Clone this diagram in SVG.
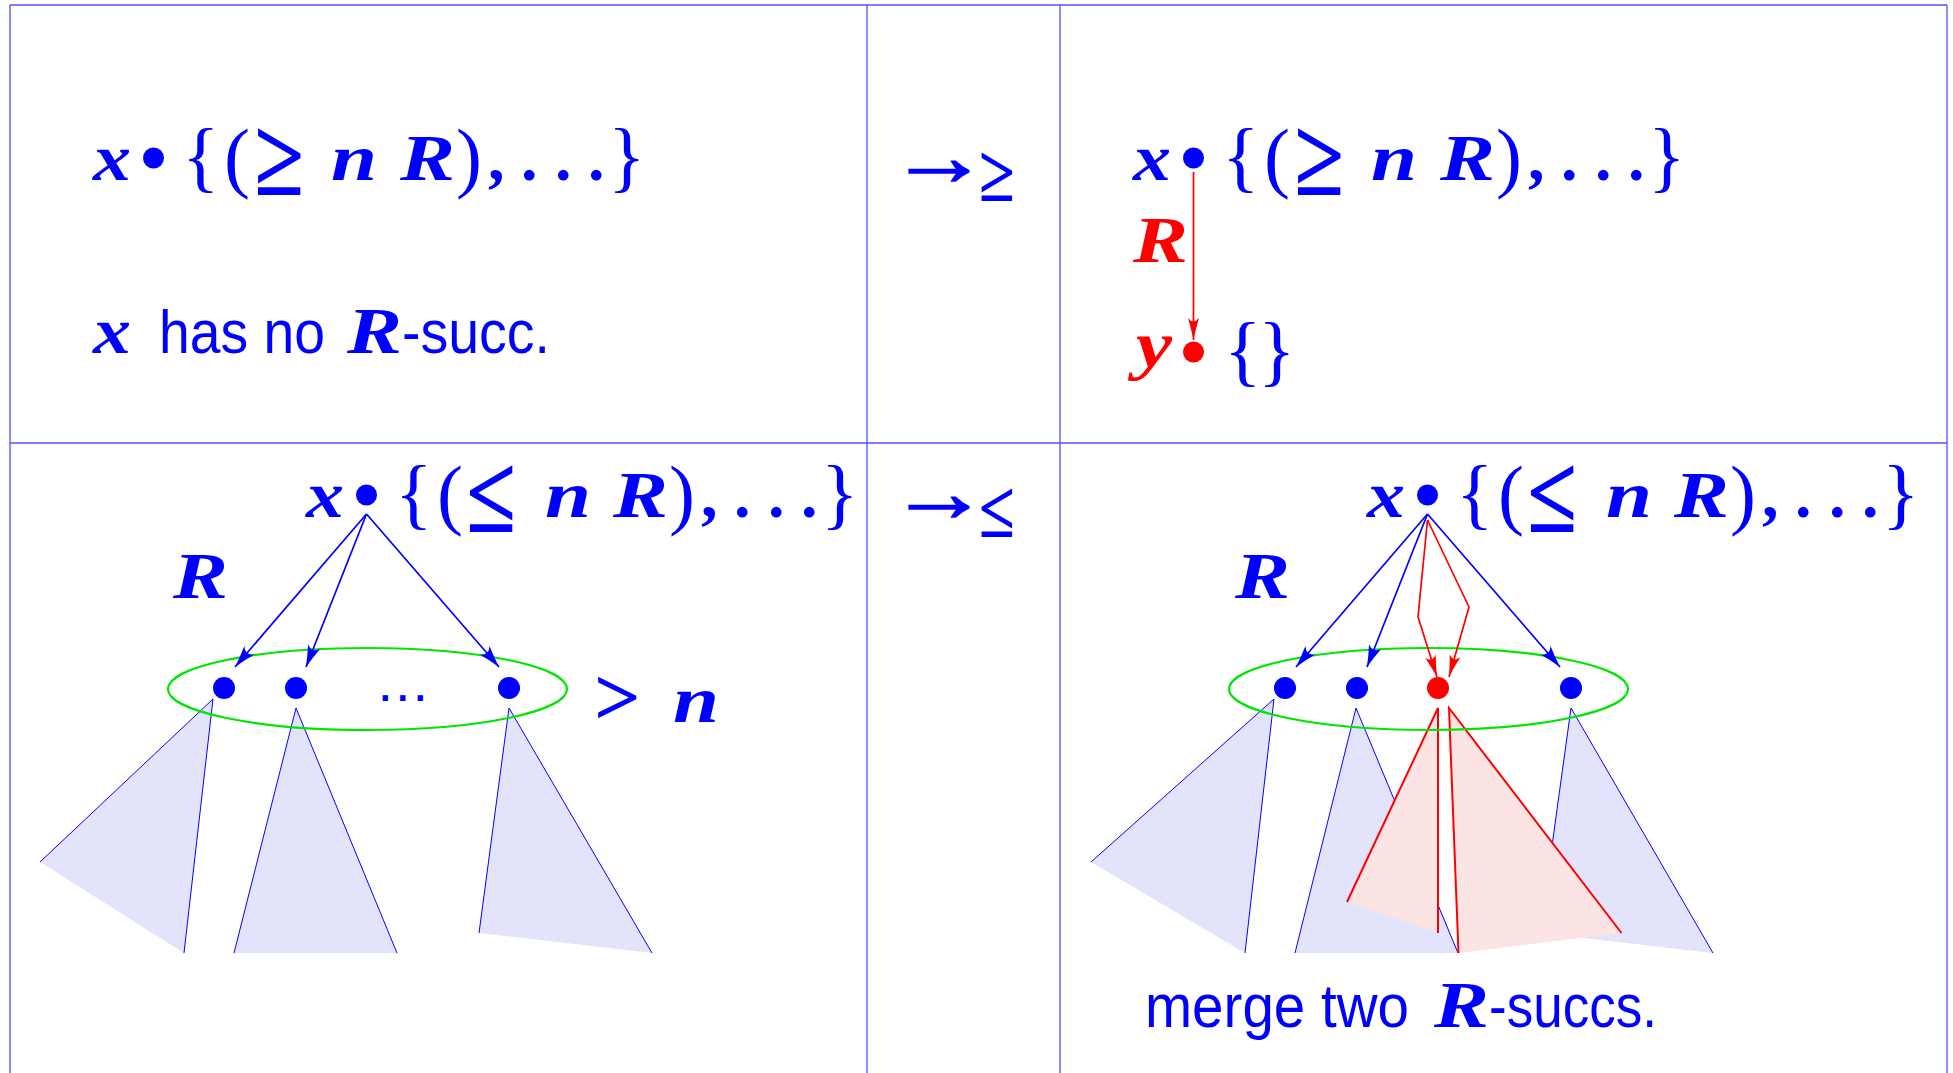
<svg xmlns="http://www.w3.org/2000/svg" width="1953" height="1073" viewBox="0 0 1953 1073">
<style>
.mi{font-family:"Liberation Serif","DejaVu Serif",serif;font-style:italic;font-weight:bold;font-size:66px}
.mr{font-family:"Liberation Serif","DejaVu Serif",serif;font-size:78px}
.rel{font-family:"Liberation Serif","DejaVu Serif",serif;font-weight:bold;font-size:110px}
.gt{font-family:"Liberation Serif","DejaVu Serif",serif;font-weight:bold;font-size:82px}
.pt{font-family:"Liberation Serif","DejaVu Serif",serif;font-weight:bold;font-size:66px}
.ss{font-family:"Liberation Sans","DejaVu Sans",sans-serif;font-size:62px}
.op{font-family:"Liberation Serif","DejaVu Serif",serif;font-weight:bold;font-size:84px;stroke:#0000ff;stroke-width:1.6}
.sub{font-family:"Liberation Serif","DejaVu Serif",serif;font-weight:bold;font-size:80px;stroke:none}
.b{fill:#0000ff}
.r{fill:#ff0000}
.grid{stroke:#5050ff;stroke-width:1.3;fill:none}
.tri{fill:#e3e3fb;stroke:none}
.tril{fill:none;stroke:#0000ff;stroke-width:1}
.ptri{fill:#fde4e4;stroke:none}
.ptril{fill:none;stroke:#ff0000;stroke-width:2}
.ell{fill:none;stroke:#00e600;stroke-width:2.2}
.ab{stroke:#0000ff;stroke-width:1.7;fill:none;marker-end:url(#ah-b)}
.ar{stroke:#ff0000;stroke-width:1.7;fill:none;marker-end:url(#ah-r)}
</style>
<defs>
<marker id="ah-b" markerUnits="userSpaceOnUse" viewBox="0 0 26 16" markerWidth="26" markerHeight="16" refX="24" refY="8" orient="auto"><path d="M24,8 Q12,5 2,1.5 Q9,8 2,14.5 Q12,11 24,8 Z" fill="#0000ff"/></marker>
<marker id="ah-r" markerUnits="userSpaceOnUse" viewBox="0 0 26 16" markerWidth="26" markerHeight="16" refX="24" refY="8" orient="auto"><path d="M24,8 Q12,5.5 2,2.5 Q9,8 2,13.5 Q12,10.5 24,8 Z" fill="#ff0000"/></marker>
</defs>
<rect width="1953" height="1073" fill="#ffffff"/>
<g id="grid" class="grid">
<line x1="10" y1="5" x2="1947" y2="5"/>
<line x1="10" y1="443" x2="1947" y2="443"/>
<line x1="10" y1="5" x2="10" y2="1073"/>
<line x1="867" y1="5" x2="867" y2="1073"/>
<line x1="1060" y1="5" x2="1060" y2="1073"/>
<line x1="1947" y1="5" x2="1947" y2="1073"/>
</g>
<g id="rule-ge">
<text class="op b" x="889" y="185" textLength="100" lengthAdjust="spacingAndGlyphs">→</text>
<text class="sub b" x="979" y="201" textLength="36" lengthAdjust="spacingAndGlyphs">≥</text>
</g>
<g id="rule-le">
<text class="op b" x="889" y="521" textLength="100" lengthAdjust="spacingAndGlyphs">→</text>
<text class="sub b" x="979" y="537" textLength="36" lengthAdjust="spacingAndGlyphs">≤</text>
</g>
<g id="tl-x">
<text class="b"><tspan class="mi" x="93" y="180" textLength="38" lengthAdjust="spacingAndGlyphs">x</tspan><tspan class="mr" x="182" y="183">{</tspan><tspan class="mr" x="224" y="183">(</tspan><tspan class="rel" x="254" y="195" textLength="50" lengthAdjust="spacingAndGlyphs">≥</tspan><tspan class="mi" x="331" y="180" textLength="46" lengthAdjust="spacingAndGlyphs">n</tspan><tspan class="mi" x="400" y="180" textLength="55" lengthAdjust="spacingAndGlyphs">R</tspan><tspan class="mr" x="456" y="183">)</tspan><tspan class="pt" x="488" y="180">,</tspan><tspan class="pt" x="521" y="180">.</tspan><tspan class="pt" x="555" y="180">.</tspan><tspan class="pt" x="588" y="180">.</tspan><tspan class="mr" x="608" y="183">}</tspan></text>
<circle cx="153.5" cy="158" r="10.5" fill="#0000ff"/>
</g>
<g id="tl-note">
<text class="b"><tspan class="mi" x="93" y="353" textLength="38" lengthAdjust="spacingAndGlyphs">x</tspan><tspan class="ss" x="159" y="353" textLength="166" lengthAdjust="spacingAndGlyphs">has no</tspan><tspan class="mi" x="347" y="353" textLength="55" lengthAdjust="spacingAndGlyphs">R</tspan><tspan class="ss" x="402" y="353" textLength="148" lengthAdjust="spacingAndGlyphs">-succ.</tspan></text>
</g>
<g id="tr-x">
<text class="b"><tspan class="mi" x="1133" y="180" textLength="38" lengthAdjust="spacingAndGlyphs">x</tspan><tspan class="mr" x="1222" y="183">{</tspan><tspan class="mr" x="1264" y="183">(</tspan><tspan class="rel" x="1294" y="195" textLength="50" lengthAdjust="spacingAndGlyphs">≥</tspan><tspan class="mi" x="1371" y="180" textLength="46" lengthAdjust="spacingAndGlyphs">n</tspan><tspan class="mi" x="1440" y="180" textLength="55" lengthAdjust="spacingAndGlyphs">R</tspan><tspan class="mr" x="1496" y="183">)</tspan><tspan class="pt" x="1528" y="180">,</tspan><tspan class="pt" x="1561" y="180">.</tspan><tspan class="pt" x="1595" y="180">.</tspan><tspan class="pt" x="1628" y="180">.</tspan><tspan class="mr" x="1648" y="183">}</tspan></text>
<circle cx="1193.5" cy="158" r="10.5" fill="#0000ff"/>
</g>
<g id="tr-y">
<text class="mi r" x="1136" y="367" textLength="36" lengthAdjust="spacingAndGlyphs">y</text>
<circle cx="1193.5" cy="352" r="10.5" fill="#ff0000"/>
<text class="b"><tspan class="mr" x="1224" y="377">{</tspan><tspan class="mr" x="1258" y="377">}</tspan></text>
</g>
<g id="bl-x">
<text class="b"><tspan class="mi" x="306" y="517" textLength="38" lengthAdjust="spacingAndGlyphs">x</tspan><tspan class="mr" x="395" y="520">{</tspan><tspan class="mr" x="437" y="520">(</tspan><tspan class="rel" x="466" y="532" textLength="50" lengthAdjust="spacingAndGlyphs">≤</tspan><tspan class="mi" x="545" y="517" textLength="46" lengthAdjust="spacingAndGlyphs">n</tspan><tspan class="mi" x="613" y="517" textLength="55" lengthAdjust="spacingAndGlyphs">R</tspan><tspan class="mr" x="669" y="520">)</tspan><tspan class="pt" x="701" y="517">,</tspan><tspan class="pt" x="734" y="517">.</tspan><tspan class="pt" x="768" y="517">.</tspan><tspan class="pt" x="801" y="517">.</tspan><tspan class="mr" x="821" y="520">}</tspan></text>
<circle cx="366.5" cy="495" r="10.5" fill="#0000ff"/>
</g>
<g id="br-x">
<text class="b"><tspan class="mi" x="1367" y="517" textLength="38" lengthAdjust="spacingAndGlyphs">x</tspan><tspan class="mr" x="1456" y="520">{</tspan><tspan class="mr" x="1498" y="520">(</tspan><tspan class="rel" x="1527" y="532" textLength="50" lengthAdjust="spacingAndGlyphs">≤</tspan><tspan class="mi" x="1606" y="517" textLength="46" lengthAdjust="spacingAndGlyphs">n</tspan><tspan class="mi" x="1674" y="517" textLength="55" lengthAdjust="spacingAndGlyphs">R</tspan><tspan class="mr" x="1730" y="520">)</tspan><tspan class="pt" x="1762" y="517">,</tspan><tspan class="pt" x="1795" y="517">.</tspan><tspan class="pt" x="1829" y="517">.</tspan><tspan class="pt" x="1862" y="517">.</tspan><tspan class="mr" x="1882" y="520">}</tspan></text>
<circle cx="1427.5" cy="495" r="10.5" fill="#0000ff"/>
</g>
<g id="bl-trees">
<polygon class="tri" points="213,699 40,862 184,953"/>
<polyline class="tril" points="40,862 213,699 184,953"/>
<polygon class="tri" points="296,708 234,953 397,953"/>
<polyline class="tril" points="234,953 296,708 397,953"/>
<polygon class="tri" points="509,708 479,933 652,953"/>
<polyline class="tril" points="479,933 509,708 652,953"/>
</g>
<g id="br-trees">
<polygon class="tri" points="1274,699 1091,862 1245,953"/>
<polyline class="tril" points="1091,862 1274,699 1245,953"/>
<polygon class="tri" points="1356,708 1295,953 1458,953"/>
<polyline class="tril" points="1295,953 1356,708 1458,953"/>
<polygon class="tri" points="1571,708 1540,933 1713,953"/>
<polyline class="tril" points="1540,933 1571,708 1713,953"/>
<polygon class="ptri" points="1438,708 1347,902 1438,933"/>
<polyline class="ptril" points="1347,902 1438,708 1438,933"/>
<polygon class="ptri" points="1449,708 1458.5,953 1621.5,933"/>
<polyline class="ptril" points="1458.5,953 1449,708 1621.5,933"/>
</g>
<g id="bl-set">
<ellipse class="ell" cx="367.5" cy="689" rx="199.5" ry="41"/>
<circle cx="224" cy="688" r="11" fill="#0000ff"/>
<circle cx="296" cy="688" r="11" fill="#0000ff"/>
<circle cx="509" cy="688" r="11" fill="#0000ff"/>
<text x="380" y="701" font-family="Liberation Sans, sans-serif" font-weight="bold" font-size="38" letter-spacing="7" class="b">...</text>
<text class="gt b" x="594" y="725">&gt;</text>
<text class="mi b" x="673" y="722" textLength="46" lengthAdjust="spacingAndGlyphs">n</text>
</g>
<g id="br-set">
<ellipse class="ell" cx="1428.5" cy="689" rx="199.5" ry="41"/>
<circle cx="1285" cy="688" r="11" fill="#0000ff"/>
<circle cx="1357" cy="688" r="11" fill="#0000ff"/>
<circle cx="1438" cy="688" r="11" fill="#ff0000"/>
<circle cx="1571" cy="688" r="11" fill="#0000ff"/>
</g>
<g id="labels">
<text class="mi r" x="1133" y="262" textLength="55" lengthAdjust="spacingAndGlyphs">R</text>
<text class="mi b" x="173" y="598" textLength="55" lengthAdjust="spacingAndGlyphs">R</text>
<text class="mi b" x="1235" y="598" textLength="55" lengthAdjust="spacingAndGlyphs">R</text>
<text class="b"><tspan class="ss" x="1145" y="1027" textLength="264" lengthAdjust="spacingAndGlyphs">merge two</tspan><tspan class="mi" x="1434" y="1027" textLength="55" lengthAdjust="spacingAndGlyphs">R</tspan><tspan class="ss" x="1489" y="1027" textLength="168" lengthAdjust="spacingAndGlyphs">-succs.</tspan></text>
</g>
<g id="connectors">
<line class="ar" x1="1193.5" y1="172" x2="1193.5" y2="340"/>
<line class="ab" x1="366.5" y1="514" x2="235" y2="667"/>
<line class="ab" x1="366.5" y1="514" x2="306" y2="667"/>
<line class="ab" x1="366.5" y1="514" x2="499" y2="667"/>
<line class="ab" x1="1427.5" y1="514" x2="1296" y2="667"/>
<line class="ab" x1="1427.5" y1="514" x2="1367" y2="667"/>
<line class="ab" x1="1427.5" y1="514" x2="1560" y2="667"/>
<polyline class="ar" points="1427.5,520 1418,617 1437,677"/>
<polyline class="ar" points="1427.5,520 1469,607 1449,677"/>
</g>
</svg>
